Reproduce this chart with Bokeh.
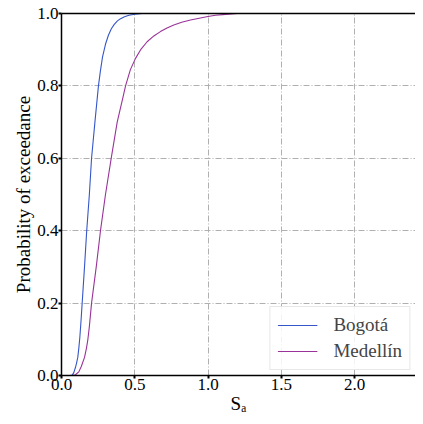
from bokeh.plotting import figure
from bokeh.models import LinearAxis, Range1d, FixedTicker, Legend, LegendItem
from bokeh.embed import file_html
from bokeh.resources import INLINE

# Data
bogota_sa = [0.0, 0.06, 0.073, 0.084, 0.095, 0.103, 0.111, 0.118, 0.125, 0.133, 0.141,
             0.157, 0.172, 0.19, 0.205, 0.228, 0.252, 0.265, 0.28, 0.30, 0.32,
             0.34, 0.36, 0.38, 0.40, 0.43, 0.46, 0.50, 0.55, 2.47]
bogota_p = [0.0, 0.0, 0.001, 0.008, 0.022, 0.035, 0.05, 0.075, 0.105, 0.15, 0.20,
            0.30, 0.40, 0.50, 0.60, 0.70, 0.80, 0.84, 0.88, 0.915, 0.94,
            0.958, 0.97, 0.979, 0.985, 0.991, 0.995, 0.998, 1.0, 1.0]

medellin_sa = [0.0, 0.075, 0.095, 0.118, 0.135, 0.157, 0.17, 0.18, 0.19, 0.205,
               0.237, 0.266, 0.30, 0.339, 0.38, 0.42, 0.437, 0.47, 0.505, 0.54,
               0.584, 0.63, 0.675, 0.72, 0.766, 0.82, 0.88, 0.94, 0.99, 1.05,
               1.1, 1.2, 2.47]
medellin_p = [0.0, 0.0, 0.002, 0.01, 0.025, 0.05, 0.075, 0.10, 0.135, 0.20,
              0.30, 0.40, 0.50, 0.60, 0.70, 0.77, 0.80, 0.845, 0.876, 0.90,
              0.922, 0.938, 0.950, 0.96, 0.968, 0.976, 0.982, 0.987, 0.991, 0.995,
              0.997, 1.0, 1.0]

x_ticks = [0.0, 0.5, 1.0, 1.5, 2.0]
y_ticks = [0.0, 0.2, 0.4, 0.6, 0.8, 1.0]

FONT = "Liberation Serif"
BLUE = "#3556c8"
PURPLE = "#993399"

p = figure(width=415, height=416, output_backend="svg",
           toolbar_location=None, x_range=Range1d(0, 2.415), y_range=Range1d(0, 1.0),
           min_border_left=61, min_border_right=0, min_border_top=13, min_border_bottom=39)
p.background_fill_color = "white"
p.border_fill_color = "white"
p.outline_line_color = None

r1 = p.line(bogota_sa, bogota_p, line_color=BLUE, line_width=1.1)
r2 = p.line(medellin_sa, medellin_p, line_color=PURPLE, line_width=1.1)

for ax in (p.xaxis[0], p.yaxis[0]):
    ax.major_label_text_font = FONT
    ax.major_label_text_font_size = "17px"
    ax.major_label_text_color = "black"
    ax.axis_label_text_font = FONT
    ax.axis_label_text_font_style = "normal"
    ax.axis_label_text_color = "black"
    ax.axis_line_color = "black"
    ax.axis_line_width = 1.5
    ax.major_tick_line_color = "black"
    ax.major_tick_line_width = 2
    ax.major_tick_in = 0
    ax.major_tick_out = 3
    ax.minor_tick_line_color = None
    ax.major_label_standoff = 0

p.xaxis[0].ticker = FixedTicker(ticks=x_ticks)
p.yaxis[0].ticker = FixedTicker(ticks=y_ticks)
p.xaxis[0].axis_label = "Sₐ"
p.xaxis[0].axis_label_text_font_size = "19px"
p.xaxis[0].axis_label_standoff = 0
p.yaxis[0].axis_label = "Probability of exceedance"
p.yaxis[0].axis_label_text_font_size = "19px"
p.yaxis[0].axis_label_standoff = 0
p.xaxis[0].major_label_overrides = {0.0: "0.0", 0.5: "0.5", 1.0: "1.0", 1.5: "1.5", 2.0: "2.0"}
p.yaxis[0].major_label_overrides = {0.0: "0.0", 0.2: "0.2", 0.4: "0.4", 0.6: "0.6", 0.8: "0.8", 1.0: "1.0"}

top = LinearAxis(major_tick_line_color=None, minor_tick_line_color=None,
                 major_label_text_font_size="0px", axis_line_color="black",
                 axis_line_width=1.5, major_label_standoff=0)
top.ticker = FixedTicker(ticks=[])
p.add_layout(top, "above")

for g in (p.xgrid[0], p.ygrid[0]):
    g.grid_line_color = "#b0b0b0"
    g.grid_line_dash = "6 2 1 2"
    g.grid_line_width = 1

legend = Legend(items=[LegendItem(label="Bogotá", renderers=[r1]),
                       LegendItem(label="Medellín", renderers=[r2])],
                location="bottom_right")
legend.label_text_font = FONT
legend.label_text_font_size = "19px"
legend.glyph_width = 40
legend.label_standoff = 16
legend.padding = 7
legend.spacing = 4
legend.margin = 5
legend.border_line_color = "#d0d0d0"
legend.background_fill_alpha = 0.85
p.add_layout(legend)

open("out.html", "w").write(file_html(p, INLINE))
